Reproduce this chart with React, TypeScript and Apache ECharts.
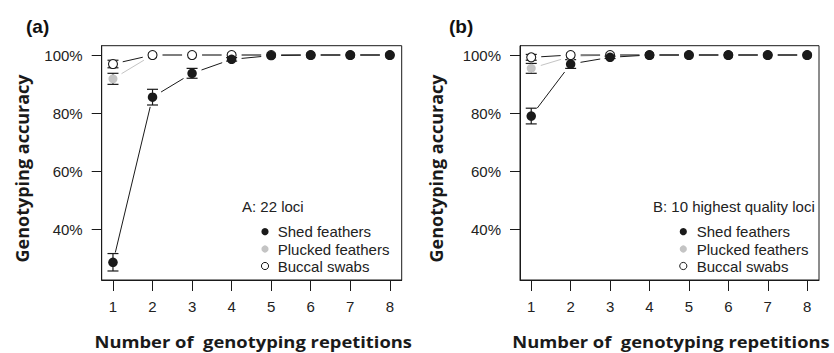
import React, { useEffect, useRef } from "react";
import * as echarts from "echarts";

const repetitions = [1, 2, 3, 4, 5, 6, 7, 8];
const yTickValues = [40, 60, 80, 100];

// Panel (a): all 22 loci
const shedA = [28.7, 85.5, 93.7, 98.5, 99.8, 100, 100, 100];
const shedErrA = [3.0, 2.7, 1.7, 0.6, 0, 0, 0, 0];
const pluckedA = [91.8, 100, 100, 100, 100, 100, 100, 100];
const pluckedErrA = [1.9, 0, 0, 0, 0, 0, 0, 0];
const buccalA = [96.9, 100, 100, 100, 100, 100, 100, 100];
const buccalErrA = [1.3, 0, 0, 0, 0, 0, 0, 0];

// Panel (b): 10 highest quality loci
const shedB = [79.0, 96.9, 99.2, 100, 100, 100, 100, 100];
const shedErrB = [2.7, 1.5, 0.4, 0, 0, 0, 0, 0];
const pluckedB = [95.4, 99.5, 100, 100, 100, 100, 100, 100];
const pluckedErrB = [1.7, 0, 0, 0, 0, 0, 0, 0];
const buccalB = [99.2, 100, 100, 100, 100, 100, 100, 100];
const buccalErrB = [1.0, 0, 0, 0, 0, 0, 0, 0];

const sampleNames = ["Shed feathers", "Plucked feathers", "Buccal swabs"];
const panelLabels = ["(a)", "(b)"];
const legendTitles = ["A: 22 loci", "B: 10 highest quality loci"];
const xTitle = "Number of  genotyping repetitions";
const yTitle = "Genotyping accuracy";

const INK = "#1a1a1a";
const GREY = "#c4c4c4";
const TICK_FONT = "'Liberation Sans', Arial, Helvetica, sans-serif";
const TITLE_FONT = "'Open Sans', 'Noto Sans', sans-serif";

function segments(values: number[]) {
  return values.slice(1).map((v, i) => [repetitions[i], values[i], repetitions[i + 1], v]);
}
function errorBars(values: number[], errs: number[]) {
  return values
    .map((v, i) => [repetitions[i], v - errs[i], v + errs[i], errs[i]])
    .filter((d) => d[3] > 0);
}

const GAP = 10;
function segRender(color: string) {
  return (params: any, api: any) => {
    const p1 = api.coord([api.value(0), api.value(1)]);
    const p2 = api.coord([api.value(2), api.value(3)]);
    const dx = p2[0] - p1[0];
    const dy = p2[1] - p1[1];
    const len = Math.hypot(dx, dy);
    if (len <= 2 * GAP + 1) return { type: "group", children: [] };
    const ux = dx / len;
    const uy = dy / len;
    return {
      type: "line",
      shape: { x1: p1[0] + ux * GAP, y1: p1[1] + uy * GAP, x2: p2[0] - ux * GAP, y2: p2[1] - uy * GAP },
      style: { stroke: color, lineWidth: 1 },
    };
  };
}
function errRender(color: string) {
  return (params: any, api: any) => {
    const lo = api.coord([api.value(0), api.value(1)]);
    const hi = api.coord([api.value(0), api.value(2)]);
    const w = 5.5;
    const st = { stroke: color, lineWidth: 1.2 };
    return {
      type: "group",
      children: [
        { type: "line", shape: { x1: lo[0], y1: lo[1], x2: hi[0], y2: hi[1] }, style: st },
        { type: "line", shape: { x1: lo[0] - w, y1: lo[1], x2: lo[0] + w, y2: lo[1] }, style: st },
        { type: "line", shape: { x1: hi[0] - w, y1: hi[1], x2: hi[0] + w, y2: hi[1] }, style: st },
      ],
    };
  };
}

export default function App() {
  const ref = useRef<HTMLDivElement>(null);
  useEffect(() => {
    if (!ref.current) return;
    const chart = echarts.init(ref.current, null, { renderer: "svg" });

    const grids = [
      { left: 101.7, top: 45.7, width: 300, height: 234.3 },
      { left: 520, top: 45.7, width: 299, height: 234.3 },
    ];
    const panels = [
      { shed: shedA, shedErr: shedErrA, plucked: pluckedA, pluckedErr: pluckedErrA, buccal: buccalA, buccalErr: buccalErrA },
      { shed: shedB, shedErr: shedErrB, plucked: pluckedB, pluckedErr: pluckedErrB, buccal: buccalB, buccalErr: buccalErrB },
    ];

    const xAxes = grids.map((_, i) => ({
      type: "value",
      gridIndex: i,
      min: 0.715,
      max: 8.3,
      axisLine: { show: true, lineStyle: { color: INK, width: 1 } },
      axisTick: { show: true, length: 11, customValues: repetitions, lineStyle: { color: INK, width: 1 } },
      axisLabel: {
        customValues: repetitions,
        margin: 19,
        fontFamily: TICK_FONT,
        fontSize: 15,
        color: "#222",
      },
      splitLine: { show: false },
    }));
    const yAxes = grids.map((_, i) => ({
      type: "value",
      gridIndex: i,
      min: 22.6,
      max: 103.2,
      axisLine: { show: true, lineStyle: { color: INK, width: 1 } },
      axisTick: { show: true, length: 10, customValues: yTickValues, lineStyle: { color: INK, width: 1 } },
      axisLabel: {
        customValues: yTickValues,
        margin: 19,
        formatter: (v: number) => `${v}%`,
        fontFamily: TICK_FONT,
        fontSize: 15,
        color: "#222",
      },
      splitLine: { show: false },
    }));

    const series: any[] = [];
    panels.forEach((p, i) => {
      const common = { xAxisIndex: i, yAxisIndex: i };
      series.push(
        { type: "custom", ...common, renderItem: segRender(GREY), data: segments(p.plucked), encode: { x: [0, 2], y: [1, 3] }, z: 1 },
        { type: "custom", ...common, renderItem: segRender(INK), data: segments(p.buccal), encode: { x: [0, 2], y: [1, 3] }, z: 2 },
        { type: "custom", ...common, renderItem: segRender(INK), data: segments(p.shed), encode: { x: [0, 2], y: [1, 3] }, z: 3 },
        { type: "custom", ...common, renderItem: errRender(INK), data: errorBars(p.plucked, p.pluckedErr), encode: { x: 0, y: [1, 2] }, z: 4 },
        { type: "custom", ...common, renderItem: errRender(INK), data: errorBars(p.buccal, p.buccalErr), encode: { x: 0, y: [1, 2] }, z: 4 },
        { type: "custom", ...common, renderItem: errRender(INK), data: errorBars(p.shed, p.shedErr), encode: { x: 0, y: [1, 2] }, z: 4 },
        {
          type: "scatter", ...common, name: sampleNames[1], z: 5,
          data: repetitions.map((r, k) => [r, p.plucked[k]]),
          symbol: "circle", symbolSize: 9,
          itemStyle: { color: GREY, opacity: 1 },
        },
        {
          type: "scatter", ...common, name: sampleNames[2], z: 6,
          data: repetitions.map((r, k) => [r, p.buccal[k]]),
          symbol: "circle", symbolSize: 9,
          itemStyle: { color: "#ffffff", borderColor: INK, borderWidth: 1.1, opacity: 1 },
        },
        {
          type: "scatter", ...common, name: sampleNames[0], z: 7,
          data: repetitions.map((r, k) => [r, p.shed[k]]),
          symbol: "circle", symbolSize: 9.5,
          itemStyle: { color: INK, opacity: 1 },
        }
      );
    });

    const legendPos = [
      { titleX: 242, symX: 265, textX: 277.7 },
      { titleX: 653, symX: 683.3, textX: 696.7 },
    ];
    const rowY = [231.7, 249, 266];
    const symStyles = [
      { fill: INK, stroke: INK, lineWidth: 0 },
      { fill: GREY, stroke: GREY, lineWidth: 0 },
      { fill: "#ffffff", stroke: INK, lineWidth: 1 },
    ];
    const graphics: any[] = [];
    panelLabels.forEach((lab, i) => {
      const g = grids[i];
      const cx = g.left + g.width / 2;
      graphics.push({
        type: "text",
        left: i === 0 ? 26 : 449,
        top: 17,
        style: { text: lab, fontFamily: TICK_FONT, fontWeight: "bold", fontSize: 19, fill: "#111" },
      });
      graphics.push({
        type: "text",
        x: cx + 1.5,
        y: 341.5,
        scaleX: 1.1,
        style: { text: xTitle, fontFamily: TITLE_FONT, fontWeight: "bold", fontSize: 16.7, fill: INK, align: "center", verticalAlign: "middle" },
      });
      graphics.push({
        type: "text",
        x: i === 0 ? 22 : 436,
        y: 168.5,
        rotation: Math.PI / 2,
        style: { text: yTitle, fontFamily: TITLE_FONT, fontWeight: "bold", fontSize: 18, fill: INK, align: "center", verticalAlign: "middle" },
      });
      const lp = legendPos[i];
      graphics.push({
        type: "text",
        x: lp.titleX,
        y: 206.7,
        style: { text: legendTitles[i], fontFamily: TICK_FONT, fontSize: 15, fill: "#222", verticalAlign: "middle", align: "left" },
      });
      sampleNames.forEach((nm, k) => {
        graphics.push({
          type: "circle",
          shape: { cx: lp.symX, cy: rowY[k], r: 3.6 },
          style: symStyles[k],
        });
        graphics.push({
          type: "text",
          x: lp.textX,
          y: rowY[k],
          style: { text: nm, fontFamily: TICK_FONT, fontSize: 15, fill: "#222", verticalAlign: "middle", align: "left" },
        });
      });
    });

    chart.setOption({
      animation: false,
      backgroundColor: "#ffffff",
      grid: grids.map((g) => ({ ...g, show: true, borderColor: INK, borderWidth: 1, backgroundColor: "transparent" })),
      xAxis: xAxes,
      yAxis: yAxes,
      series,
      graphic: graphics,
    });
    return () => chart.dispose();
  }, []);

  return <div ref={ref} style={{ position: "fixed", left: 0, top: 0, width: 834, height: 353 }} />;
}
